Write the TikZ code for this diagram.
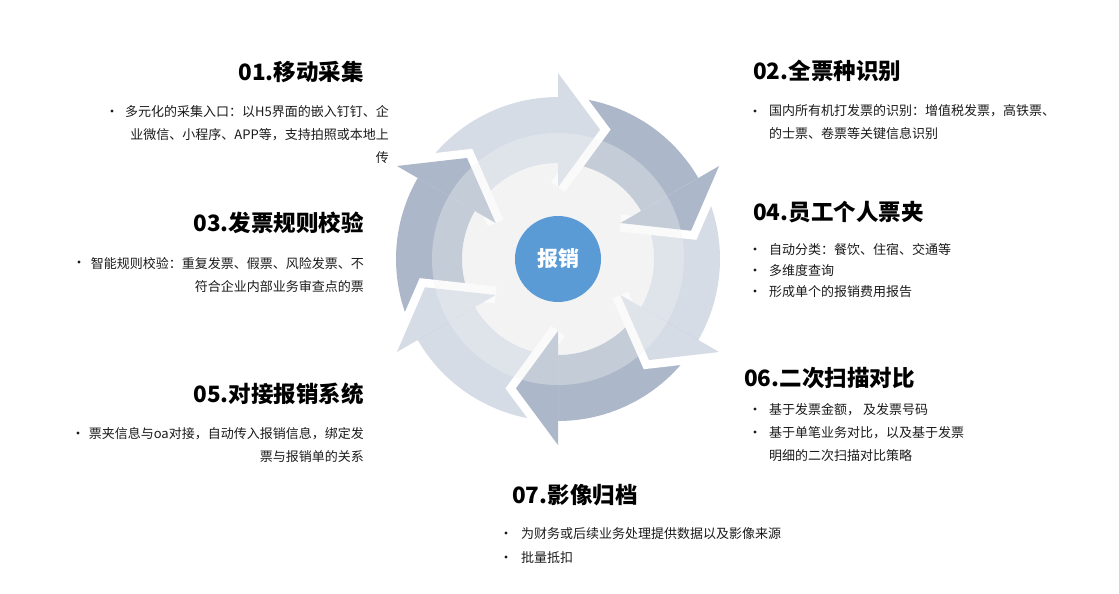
\documentclass[tikz,border=0pt]{standalone}
\usepackage{fontspec}
\setmainfont{Noto Sans CJK SC}
\usetikzlibrary{positioning}
\definecolor{lightarrow}{HTML}{D6DCE6}
\definecolor{darkarrow}{HTML}{ACB8CA}
\definecolor{innergray}{HTML}{F5F5F5}
\definecolor{veil}{HTML}{F2F2F2}
\definecolor{hubblue}{HTML}{5B9BD5}
\definecolor{bodytext}{HTML}{1A1A1A}
\tikzstyle{heading} = [font=\fontsize{22.5}{26}\selectfont\bfseries, inner sep=0pt]
\tikzstyle{itemtext} = [font=\fontsize{13}{23}\selectfont, text=bodytext, inner sep=0pt]
\tikzstyle{bulletmark} = [circle, fill=bodytext, minimum size=3.4pt, inner sep=0pt]
\tikzstyle{hub} = [circle, fill=hubblue, minimum size=86pt, inner sep=0pt,
text=white, font=\fontsize{21}{21}\selectfont\bfseries]

\begin{document}
\begin{tikzpicture}[x=1pt, y=1pt]
    \useasboundingbox (0,0) rectangle (1119,-594);
    % wheel
    \begin{scope}[shift={(558,-259)}]
        \fill[innergray] (0,0) circle (96pt);
        \foreach \b/\c in {90/lightarrow, 30/darkarrow, -30/lightarrow, -90/darkarrow, -150/lightarrow, 150/darkarrow}
            \fill[\c] ({\b+60}:162pt) arc[start angle=\b+60, end angle=\b, radius=162pt]
                -- (\b:96pt) arc[start angle=\b, end angle=\b+60, radius=96pt] -- cycle;
        \foreach \b/\c in {90/lightarrow, 30/darkarrow, -30/lightarrow, -90/darkarrow, -150/lightarrow, 150/darkarrow} {
            \draw[white, line width=17pt, line join=miter] (\b:186pt) -- ({\b-18}:136pt) -- (\b:72pt);
            \fill[\c] (\b:186pt) -- ({\b-18}:136pt) -- (\b:72pt) -- cycle;
        }
        \fill[veil, opacity=0.35] (0,0) circle (126pt);
    \end{scope}
    \node (hub) [hub] at (558,-259) {报销};

    % left column
    \node (head01) [heading, anchor=base east] at (364,-81) {01.移动采集};
    \node (text01) [itemtext, align=right, anchor=base east] at (389,-162)
        {多元化的采集入口：以H5界面的嵌入钉钉、企\\业微信、小程序、APP等，支持拍照或本地上\\传};
    \node (dot01) [bulletmark] at (112,-111) {};

    \node (head03) [heading, anchor=base east] at (364,-231) {03.发票规则校验};
    \node (text03) [itemtext, align=right, anchor=base east] at (364,-291)
        {智能规则校验：重复发票、假票、风险发票、不\\符合企业内部业务审查点的票};
    \node (dot03) [bulletmark] at (79,-262) {};

    \node (head05) [heading, anchor=base east] at (364,-402) {05.对接报销系统};
    \node (text05) [itemtext, align=right, anchor=base east] at (364,-461)
        {票夹信息与oa对接，自动传入报销信息，绑定发\\票与报销单的关系};
    \node (dot05) [bulletmark] at (78,-433) {};

    % right column
    \node (head02) [heading, anchor=base west] at (753,-80) {02.全票种识别};
    \node (text02) [itemtext, align=left, anchor=base west] at (769,-138)
        {国内所有机打发票的识别：增值税发票，高铁票、\\的士票、卷票等关键信息识别};
    \node (dot02) [bulletmark] at (755,-111) {};

    \node (head04) [heading, anchor=base west] at (753,-220) {04.员工个人票夹};
    \node (text04a) [itemtext, anchor=base west] at (769,-254) {自动分类：餐饮、住宿、交通等};
    \node (text04b) [itemtext, anchor=base west] at (769,-275) {多维度查询};
    \node (text04c) [itemtext, anchor=base west] at (769,-296) {形成单个的报销费用报告};
    \node (dot04a) [bulletmark] at (755,-249) {};
    \node (dot04b) [bulletmark] at (755,-270) {};
    \node (dot04c) [bulletmark] at (755,-291) {};

    \node (head06) [heading, anchor=base west] at (744,-386) {06.二次扫描对比};
    \node (text06a) [itemtext, anchor=base west] at (769,-414) {基于发票金额， 及发票号码};
    \node (text06b) [itemtext, align=left, anchor=base west] at (769,-460)
        {基于单笔业务对比，以及基于发票\\明细的二次扫描对比策略};
    \node (dot06a) [bulletmark] at (755,-409) {};
    \node (dot06b) [bulletmark] at (755,-432) {};

    % bottom
    \node (head07) [heading, anchor=base west] at (512,-503) {07.影像归档};
    \node (text07a) [itemtext, anchor=base west] at (521,-538) {为财务或后续业务处理提供数据以及影像来源};
    \node (text07b) [itemtext, anchor=base west] at (521,-562) {批量抵扣};
    \node (dot07a) [bulletmark] at (506,-533) {};
    \node (dot07b) [bulletmark] at (506,-557) {};
\end{tikzpicture}
\end{document}
